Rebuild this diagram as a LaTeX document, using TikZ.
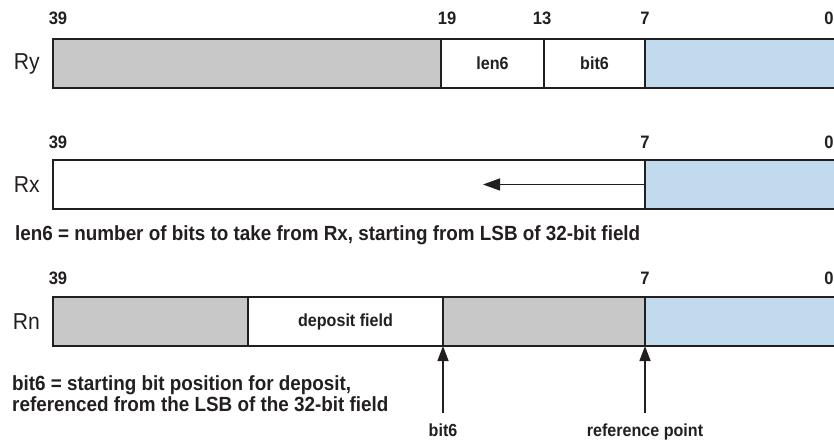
\documentclass[tikz,border=0pt]{standalone}
\usepackage{fontspec}
\setmainfont{Liberation Sans}[FakeStretch=0.92]
\usepackage{xcolor}
\usetikzlibrary{positioning, arrows.meta}

\definecolor{cellgray}{RGB}{200,200,200}
\definecolor{cellblue}{RGB}{193,218,238}
\definecolor{edge}{RGB}{35,31,32}

\begin{document}
\begin{tikzpicture}[
    x=1pt, y=1pt,
    every node/.style={text=edge, inner sep=2pt},
    cell/.style={
        rectangle,
        draw=edge,
        line width=2pt,
        minimum height=49pt,
        inner sep=0pt,
        outer sep=0pt,
        font=\fontsize{17.5}{20}\selectfont\bfseries
    },
    bitno/.style={font=\fontsize{18}{21}\selectfont\bfseries},
    regname/.style={font=\fontsize{23}{26}\selectfont},
    note/.style={
        font=\fontsize{20.5}{21}\selectfont\bfseries,
        align=left,
        anchor=west
    },
    tag/.style={font=\fontsize{17.5}{20}\selectfont\bfseries},
    arrow/.style={
        -{Triangle[length=15pt, width=11pt]},
        line width=1.4pt,
        draw=edge
    }
]
\useasboundingbox (0,0) rectangle (834,439);
\clip (0,0) rectangle (834,439);

% Ry
\node[cell, fill=cellgray, minimum width=388pt, anchor=north west] (rygray) at (53,400) {};
\node[cell, minimum width=103pt, right=0pt of rygray] (rylen) {len6};
\node[cell, minimum width=101pt, right=0pt of rylen] (rybit) {bit6};
\node[cell, fill=cellblue, minimum width=210pt, right=0pt of rybit] (ryblue) {};
\node[regname, left=11pt of rygray] (ryname) {Ry};
\foreach \x/\b in {58/39, 447/19, 542/13, 645/7, 829/0}
    \node[bitno] (ry\b) at (\x,421) {\b};

% Rx
\node[cell, minimum width=592pt, anchor=north west] (rxwhite) at (53,279) {};
\node[cell, fill=cellblue, minimum width=210pt, right=0pt of rxwhite] (rxblue) {};
\node[regname, left=11pt of rxwhite] (rxname) {Rx};
\foreach \x/\b in {58/39, 645/7, 829/0}
    \node[bitno] (rx\b) at (\x,297) {\b};
\coordinate[left=162pt of rxwhite.east] (rxtip);
\draw[arrow, -{Triangle[length=17pt, width=12pt]}] (rxwhite.east) -- (rxtip);

\node[note] (lennote) at (13,204) {len6 = number of bits to take from Rx, starting from LSB of 32-bit field};

% Rn
\node[cell, fill=cellgray, minimum width=195pt, anchor=north west] (rngray) at (53,142) {};
\node[cell, minimum width=195pt, right=0pt of rngray] (rndep) {deposit field};
\node[cell, fill=cellgray, minimum width=202pt, right=0pt of rndep] (rnlow) {};
\node[cell, fill=cellblue, minimum width=210pt, right=0pt of rnlow] (rnblue) {};
\node[regname, left=11pt of rngray] (rnname) {Rn};
\foreach \x/\b in {58/39, 645/7, 829/0}
    \node[bitno] (rn\b) at (\x,161) {\b};

\node[note] (bitnote) at (10,45.5) {bit6 = starting bit position for deposit,\\referenced from the LSB of the 32-bit field};

% Pointers
\coordinate[below=67pt of rndep.south east] (bitfoot);
\coordinate[below=67pt of rnlow.south east] (reffoot);
\draw[arrow] (bitfoot) -- (rndep.south east);
\draw[arrow] (reffoot) -- (rnlow.south east);
\node[tag, below=9pt of bitfoot] (bittag) {bit6};
\node[tag, below=9pt of reffoot] (reftag) {reference point};

\end{tikzpicture}
\end{document}
